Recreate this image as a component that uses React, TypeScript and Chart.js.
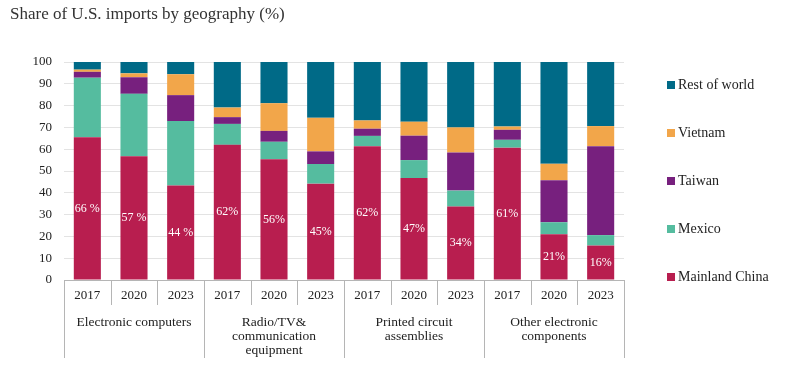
import React, { useEffect, useRef } from "react";
import { Chart, registerables } from "chart.js";

Chart.register(...registerables);

const years = ["2017", "2020", "2023", "2017", "2020", "2023", "2017", "2020", "2023", "2017", "2020", "2023"];
const groupLabels: string[][] = [
  ["Electronic computers"],
  ["Radio/TV&", "communication", "equipment"],
  ["Printed circuit", "assemblies"],
  ["Other electronic", "components"],
];
const chinaLabels = ["66 %", "57 %", "44 %", "62%", "56%", "45%", "62%", "47%", "34%", "61%", "21%", "16%"];

const china = [65.5, 56.8, 43.3, 62, 55.4, 44.2, 61.4, 46.8, 33.7, 60.7, 21, 15.8];
const mexico = [27.3, 28.6, 29.6, 9.6, 8, 9, 4.7, 8.2, 7.3, 3.6, 5.5, 4.8];
const taiwan = [2.7, 7.6, 11.9, 3.1, 5, 5.8, 3.3, 11.2, 17.5, 4.6, 19.3, 40.8];
const vietnam = [1, 1.8, 9.6, 4.4, 12.7, 15.4, 3.8, 6.4, 11.5, 1.5, 7.5, 9.2];
const rest = [3.5, 5.2, 5.6, 20.9, 18.9, 25.6, 26.8, 27.4, 30, 29.6, 46.7, 29.4];

const seriesNames = ["Mainland China", "Mexico", "Taiwan", "Vietnam", "Rest of world"];
const seriesColors = ["#B81E4F", "#55BC9F", "#77207E", "#F2A64A", "#006A87"];

const SERIF = "'Liberation Serif', 'DejaVu Serif', serif";

export default function App() {
  const ref = useRef<HTMLCanvasElement | null>(null);
  useEffect(() => {
    document.body.style.margin = "0";
    const canvas = ref.current!;
    const values = [china, mexico, taiwan, vietnam, rest];

    const customPlugin = {
      id: "custom",
      afterDraw(chart: any) {
        const ctx = chart.ctx as CanvasRenderingContext2D;
        const area = chart.chartArea;
        const xs = chart.scales.x;
        ctx.save();
        // title
        ctx.fillStyle = "#333";
        ctx.font = `17px ${SERIF}`;
        ctx.textAlign = "left";
        ctx.textBaseline = "middle";
        ctx.fillText("Share of U.S. imports by geography (%)", 10, 15);

        // x axis box
        const n = years.length;
        const bounds: number[] = [];
        for (let i = 0; i <= n; i++) {
          if (i === 0) bounds.push(area.left);
          else if (i === n) bounds.push(area.right);
          else bounds.push((xs.getPixelForValue(i - 1) + xs.getPixelForValue(i)) / 2);
        }
        ctx.strokeStyle = "#b5b5b5";
        ctx.lineWidth = 1;
        ctx.beginPath();
        ctx.moveTo(area.left, Math.round(area.bottom) + 0.5);
        ctx.lineTo(area.right, Math.round(area.bottom) + 0.5);
        for (let i = 0; i <= n; i++) {
          const x = Math.round(bounds[i]) + 0.5;
          ctx.moveTo(x, area.bottom);
          ctx.lineTo(x, i % 3 === 0 ? area.bottom + 78 : area.bottom + 25);
        }
        ctx.stroke();

        ctx.fillStyle = "#222";
        ctx.font = `13px ${SERIF}`;
        ctx.textAlign = "center";
        for (let i = 0; i < n; i++) {
          ctx.fillText(years[i], xs.getPixelForValue(i), area.bottom + 16);
        }
        ctx.font = `13.5px ${SERIF}`;
        groupLabels.forEach((lines, g) => {
          const cx = (bounds[g * 3] + bounds[g * 3 + 3]) / 2;
          lines.forEach((line, k) => {
            ctx.fillText(line, cx, area.bottom + 42 + k * 14);
          });
        });

        // china labels
        const meta = chart.getDatasetMeta(0);
        ctx.fillStyle = "#ffffff";
        ctx.font = `12px ${SERIF}`;
        meta.data.forEach((bar: any, i: number) => {
          ctx.fillText(chinaLabels[i], bar.x, (bar.y + bar.base) / 2);
        });

        // legend
        ctx.textAlign = "left";
        ctx.font = `14px ${SERIF}`;
        for (let s = seriesNames.length - 1; s >= 0; s--) {
          const row = seriesNames.length - 1 - s;
          const y = 85 + row * 48;
          ctx.fillStyle = seriesColors[s];
          ctx.fillRect(667, y - 4, 8, 8);
          ctx.fillStyle = "#222";
          ctx.fillText(seriesNames[s], 678, y);
        }
        ctx.restore();
      },
    };

    const chart = new Chart(canvas, {
      type: "bar",
      data: {
        labels: years.map((y, i) => `${y}-${i}`),
        datasets: seriesNames.map((name, s) => ({
          label: name,
          data: values[s],
          backgroundColor: seriesColors[s],
          borderWidth: 0,
          categoryPercentage: 1,
          barPercentage: 0.58,
        })),
      },
      options: {
        responsive: false,
        animation: false,
        layout: { padding: { left: 0, top: 62, right: 184, bottom: 92 } },
        plugins: {
          legend: { display: false },
          title: { display: false },
          tooltip: { enabled: false },
        },
        scales: {
          x: { stacked: true, display: false },
          y: {
            stacked: true,
            min: 0,
            max: 100,
            ticks: {
              stepSize: 10,
              padding: 12,
              color: "#222",
              font: { family: SERIF, size: 13 },
            },
            grid: { color: "#e3e3e3", drawTicks: false },
            border: { display: false },
            afterFit: (s: any) => {
              s.width = 64;
            },
          },
        },
      },
      plugins: [customPlugin],
    });
    return () => chart.destroy();
  }, []);
  return (
    <div style={{ width: 808, height: 372 }}>
      <canvas ref={ref} width={808} height={372} style={{ display: "block" }} />
    </div>
  );
}
